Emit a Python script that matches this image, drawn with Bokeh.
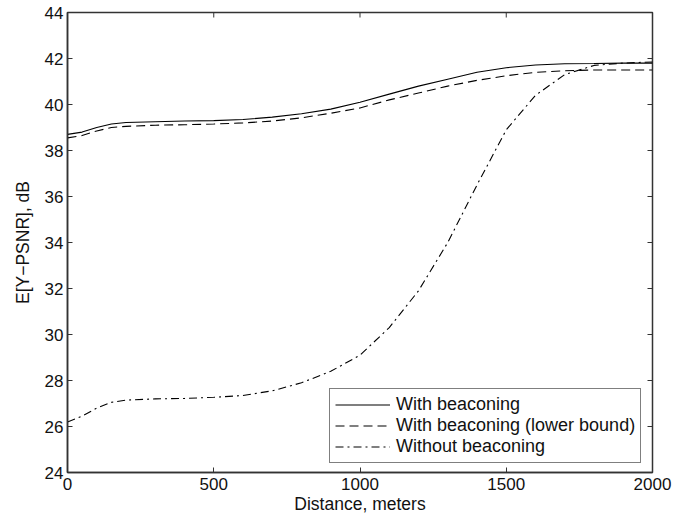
from bokeh.plotting import figure
from bokeh.models import Range1d, Legend, LegendItem, FixedTicker
from bokeh.embed import file_html
from bokeh.resources import INLINE

# Data
dist_with = [0, 50, 100, 150, 200, 300, 400, 500, 600, 700, 800, 900, 1000, 1100, 1200, 1300, 1400, 1500, 1600, 1700, 1800, 1900, 2000]
psnr_with = [38.7, 38.8, 39.0, 39.15, 39.22, 39.25, 39.28, 39.3, 39.35, 39.45, 39.6, 39.8, 40.1, 40.45, 40.8, 41.1, 41.4, 41.6, 41.72, 41.77, 41.78, 41.8, 41.8]

dist_lower = [0, 50, 100, 150, 200, 300, 400, 500, 600, 700, 800, 900, 1000, 1100, 1200, 1300, 1400, 1500, 1600, 1700, 1800, 1900, 2000]
psnr_lower = [38.55, 38.65, 38.85, 39.0, 39.05, 39.1, 39.12, 39.15, 39.2, 39.28, 39.42, 39.62, 39.85, 40.2, 40.5, 40.8, 41.05, 41.25, 41.4, 41.47, 41.5, 41.5, 41.5]

dist_without = [0, 50, 100, 150, 200, 300, 400, 500, 600, 700, 800, 900, 1000, 1100, 1200, 1300, 1400, 1500, 1600, 1700, 1800, 1900, 2000]
psnr_without = [26.2, 26.45, 26.8, 27.05, 27.15, 27.2, 27.22, 27.27, 27.35, 27.55, 27.9, 28.4, 29.1, 30.3, 31.9, 34.0, 36.5, 38.9, 40.4, 41.3, 41.7, 41.8, 41.85]

series_labels = ["With beaconing", "With beaconing (lower bound)", "Without beaconing"]
x_ticks = [0, 500, 1000, 1500, 2000]
y_ticks = [24, 26, 28, 30, 32, 34, 36, 38, 40, 42, 44]

FONT = "Liberation Sans"
AX = "#333333"

x_min, x_max = x_ticks[0], x_ticks[-1]
y_min, y_max = y_ticks[0], y_ticks[-1]

p = figure(width=687, height=516, output_backend="svg", toolbar_location=None,
           x_range=Range1d(x_min, x_max), y_range=Range1d(y_min, y_max),
           min_border_left=67, min_border_right=35, min_border_top=12, min_border_bottom=43)
p.xgrid.visible = False
p.ygrid.visible = False
p.outline_line_color = AX
p.outline_line_width = 1.5

for ax in (p.xaxis[0], p.yaxis[0]):
    ax.major_tick_in = 5
    ax.major_tick_out = 0
    ax.minor_tick_in = 0
    ax.minor_tick_out = 0
    ax.axis_line_color = AX
    ax.axis_line_width = 1.5
    ax.major_tick_line_color = AX
    ax.major_label_text_font = FONT
    ax.major_label_text_font_size = "17px"
    ax.major_label_text_color = "#111111"
    ax.axis_label_text_font = FONT
    ax.axis_label_text_font_size = "17.5px"
    ax.axis_label_text_font_style = "normal"
    ax.axis_label_text_color = "#111111"

p.xaxis[0].ticker = FixedTicker(ticks=x_ticks)
p.yaxis[0].ticker = FixedTicker(ticks=y_ticks)
p.xaxis[0].axis_label = "Distance, meters"
p.yaxis[0].axis_label = "E[Y\u2212PSNR], dB"
p.xaxis[0].major_label_standoff = 5
p.yaxis[0].major_label_standoff = 4
p.xaxis[0].axis_label_standoff = 1
p.yaxis[0].axis_label_standoff = 9

# inward tick marks on the top and right edges (box axes); half outside is clipped by the frame
p.scatter(x_ticks, [y_max] * len(x_ticks), marker="dash", angle=1.5708, size=10,
          line_color=AX, line_width=1)
p.scatter([x_max] * len(y_ticks), y_ticks, marker="dash", size=10,
          line_color=AX, line_width=1)

r1 = p.line(dist_with, psnr_with, line_color="black", line_width=1.1)
r2 = p.line(dist_lower, psnr_lower, line_color="black", line_width=1.1, line_dash="9 5")
r3 = p.line(dist_without, psnr_without, line_color="black", line_width=1.1, line_dash="8 4 2 4")

legend = Legend(items=[LegendItem(label=series_labels[0], renderers=[r1]),
                       LegendItem(label=series_labels[1], renderers=[r2]),
                       LegendItem(label=series_labels[2], renderers=[r3])],
                location=(262, 9), label_text_font=FONT, label_text_font_size="18px",
                label_text_color="#111111", glyph_width=55, glyph_height=21, label_height=21,
                spacing=0, padding=5, margin=0, label_standoff=6,
                border_line_color="black", border_line_width=1, background_fill_alpha=1)
p.add_layout(legend, "center")

open("out.html", "w").write(file_html(p, INLINE))
